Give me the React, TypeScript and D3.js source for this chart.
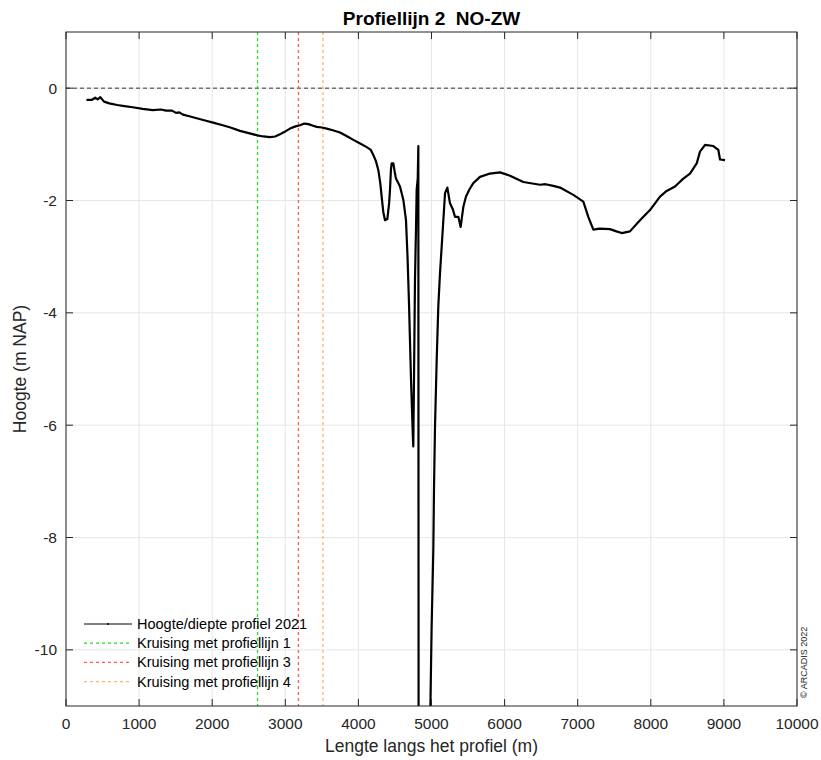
import React from "react";
import * as d3 from "d3";

const distance = [280, 350, 400, 433, 470, 520, 593, 700, 800, 912, 1050, 1186, 1300, 1368, 1450, 1505, 1550, 1600, 1687, 1800, 1915, 2000, 2143, 2250, 2380, 2500, 2617, 2700, 2791, 2860, 2928, 3000, 3065, 3140, 3202, 3260, 3316, 3380, 3430, 3500, 3567, 3650, 3749, 3850, 3931, 4030, 4114, 4170, 4204, 4240, 4273, 4300, 4318, 4340, 4364, 4396, 4420, 4432, 4445, 4455, 4478, 4495, 4514, 4569, 4615, 4651, 4672, 4692, 4720, 4745, 4751, 4762, 4774, 4788, 4797, 4812, 4820, 4824, 4978, 4985, 5002, 5025, 5034, 5048, 5071, 5093, 5116, 5150, 5185, 5217, 5253, 5290, 5321, 5367, 5399, 5436, 5472, 5520, 5572, 5663, 5800, 5937, 6074, 6256, 6484, 6560, 6666, 6758, 6940, 7077, 7145, 7214, 7300, 7442, 7530, 7602, 7715, 7852, 7989, 8126, 8217, 8331, 8445, 8536, 8628, 8673, 8742, 8855, 8924, 8947, 9015];
const height = [-0.21, -0.21, -0.17, -0.2, -0.16, -0.24, -0.27, -0.3, -0.32, -0.34, -0.37, -0.39, -0.38, -0.4, -0.4, -0.44, -0.43, -0.47, -0.5, -0.54, -0.58, -0.61, -0.66, -0.7, -0.76, -0.8, -0.84, -0.86, -0.87, -0.86, -0.82, -0.77, -0.72, -0.68, -0.66, -0.63, -0.64, -0.67, -0.69, -0.7, -0.72, -0.75, -0.79, -0.86, -0.92, -0.99, -1.05, -1.1, -1.19, -1.3, -1.46, -1.7, -1.93, -2.2, -2.35, -2.33, -2.05, -1.81, -1.45, -1.34, -1.34, -1.48, -1.61, -1.75, -1.99, -2.35, -3.0, -3.82, -5.2, -6.2, -6.38, -5.0, -3.41, -2.5, -1.81, -1.6, -1.03, -13, -13, -11, -9.58, -8.21, -7.15, -6.02, -4.84, -3.89, -3.3, -2.6, -1.87, -1.77, -2.05, -2.15, -2.29, -2.29, -2.47, -2.11, -1.93, -1.8, -1.69, -1.58, -1.52, -1.5, -1.56, -1.67, -1.72, -1.71, -1.74, -1.77, -1.9, -2.02, -2.29, -2.52, -2.5, -2.51, -2.55, -2.58, -2.55, -2.35, -2.17, -1.93, -1.83, -1.75, -1.61, -1.52, -1.34, -1.13, -1.01, -1.03, -1.1, -1.27, -1.28];

const crossings = [2620, 3180, 3515];
const crossingColors = ["#22dd22", "#ff5a5a", "#ffb366"];
const legendLabels = [
  "Hoogte/diepte profiel 2021",
  "Kruising met profiellijn 1",
  "Kruising met profiellijn 3",
  "Kruising met profiellijn 4",
];
const xTicks = [0, 1000, 2000, 3000, 4000, 5000, 6000, 7000, 8000, 9000, 10000];
const yTicks = [-10, -8, -6, -4, -2, 0];

const W = 821, H = 760;
const L = 66, R = 797, T = 32, B = 706;
const FONT = "'Liberation Sans', Arial, Helvetica, sans-serif";
const AX = "#262626";

export default function App() {
  const x = d3.scaleLinear().domain([0, 10000]).range([L, R]);
  const y = d3.scaleLinear().domain([-11, 1]).range([B, T]);
  const pts = distance.map((d, i) => [d, height[i]] as [number, number]);
  const line = d3.line<[number, number]>().x(d => x(d[0])).y(d => y(d[1]));
  const tl = 7;
  return (
    <svg width={W} height={H} style={{ position: "absolute", left: 0, top: 0, background: "#fff" }} fontFamily={FONT}>
      <defs>
        <clipPath id="plot"><rect x={L} y={T} width={R - L} height={B - T} /></clipPath>
      </defs>
      <rect x={0} y={0} width={W} height={H} fill="#fff" />
      {/* grid */}
      {xTicks.map(t => (
        <line key={"gx" + t} x1={x(t)} x2={x(t)} y1={T} y2={B} stroke="#e6e6e6" strokeWidth={1} />
      ))}
      {yTicks.map(t => (
        <line key={"gy" + t} x1={L} x2={R} y1={y(t)} y2={y(t)} stroke="#e6e6e6" strokeWidth={1} />
      ))}
      {/* zero line */}
      <line x1={L} x2={R} y1={y(0)} y2={y(0)} stroke="#333" strokeWidth={1} strokeDasharray="4,3" />
      {/* crossings */}
      {crossings.map((c, i) => (
        <line key={"c" + i} x1={x(c)} x2={x(c)} y1={T} y2={B} stroke={crossingColors[i]} strokeWidth={1.3} strokeDasharray="3,3" />
      ))}
      {/* profile */}
      <g clipPath="url(#plot)">
        <path d={line(pts) || ""} fill="none" stroke="#000" strokeWidth={2.2} strokeLinejoin="round" />
      </g>
      {/* axes box */}
      <rect x={L} y={T} width={R - L} height={B - T} fill="none" stroke={AX} strokeWidth={1} />
      {xTicks.map(t => (
        <g key={"xt" + t}>
          <line x1={x(t)} x2={x(t)} y1={B} y2={B - tl} stroke={AX} />
          <line x1={x(t)} x2={x(t)} y1={T} y2={T + tl} stroke={AX} />
          <text x={x(t)} y={729} textAnchor="middle" fontSize={15.5} fill={AX}>{t}</text>
        </g>
      ))}
      {yTicks.map(t => (
        <g key={"yt" + t}>
          <line x1={L} x2={L + tl} y1={y(t)} y2={y(t)} stroke={AX} />
          <line x1={R} x2={R - tl} y1={y(t)} y2={y(t)} stroke={AX} />
          <text x={57} y={y(t) + 5.5} textAnchor="end" fontSize={15.5} fill={AX}>{t}</text>
        </g>
      ))}
      {/* labels */}
      <text x={(L + R) / 2} y={752} textAnchor="middle" fontSize={17.5} fill={AX}>Lengte langs het profiel (m)</text>
      <text transform={`translate(26,${(T + B) / 2}) rotate(-90)`} textAnchor="middle" fontSize={17.5} fill={AX}>Hoogte (m NAP)</text>
      <text x={(L + R) / 2} y={25} textAnchor="middle" fontSize={19} fontWeight="bold" fill="#000" style={{ whiteSpace: "pre" }}>{"Profiellijn 2  NO-ZW"}</text>
      {/* legend */}
      {legendLabels.map((lab, i) => {
        const ly = 624 + i * 19.2;
        return (
          <g key={"lg" + i}>
            {i === 0 ? (
              <g>
                <line x1={84} x2={132} y1={ly} y2={ly} stroke="#000" strokeWidth={1} />
                <circle cx={108} cy={ly} r={1} fill="#000" />
              </g>
            ) : (
              <line x1={84} x2={132} y1={ly} y2={ly} stroke={crossingColors[i - 1]} strokeWidth={1.3} strokeDasharray="3,3" />
            )}
            <text x={137} y={ly + 5} fontSize={14.5} fill="#000">{lab}</text>
          </g>
        );
      })}
      {/* copyright */}
      <text transform="translate(807,698) rotate(-90)" fontSize={9} fill={AX}>© ARCADIS 2022</text>
    </svg>
  );
}
